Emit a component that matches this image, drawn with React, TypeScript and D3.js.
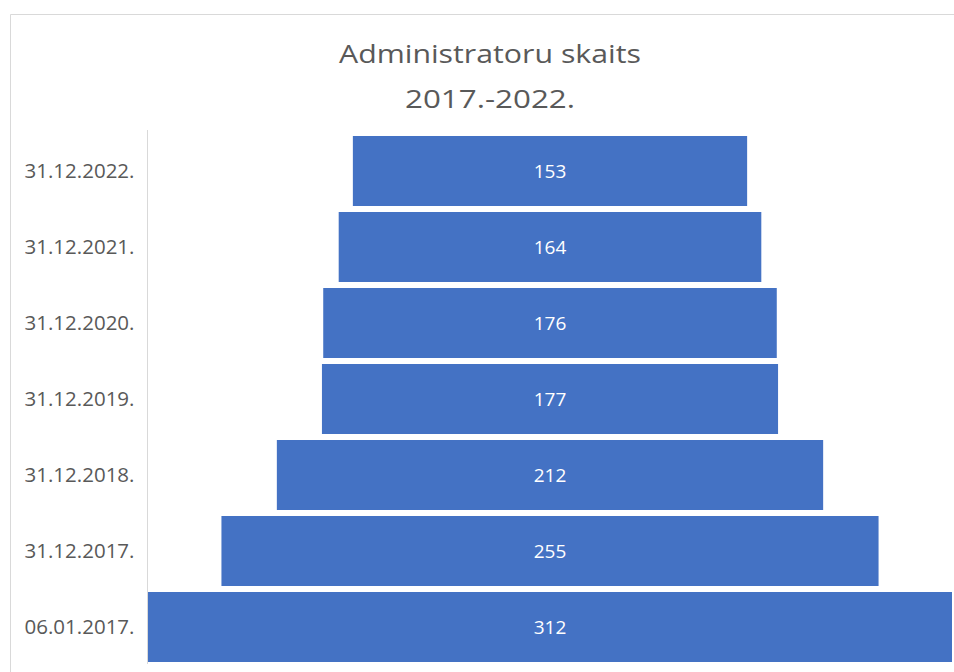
import React from "react";
import * as d3 from "d3";

const categories = ["31.12.2022.", "31.12.2021.", "31.12.2020.", "31.12.2019.", "31.12.2018.", "31.12.2017.", "06.01.2017."];
const values = [153, 164, 176, 177, 212, 255, 312];
const titleLines = ["Administratoru skaits", "2017.-2022."];
const titleWidths = [302, 170];

export default function App() {
  const W = 954, H = 672;
  const y = d3.scaleBand<string>().domain(categories).range([133, 665]).paddingInner(6 / 76).paddingOuter(3 / 76);
  const w = d3.scaleLinear().domain([0, 312]).range([0, 804]);
  const cx = 550;
  const font = "'Open Sans', 'Noto Sans', sans-serif";
  return (
    <svg width={W} height={H} style={{ position: "absolute", left: 0, top: 0 }}>
      <rect x={0} y={0} width={W} height={H} fill="#fff" />
      <line x1={10.5} y1={14.5} x2={W} y2={14.5} stroke="#d9d9d9" />
      <line x1={10.5} y1={14.5} x2={10.5} y2={H} stroke="#d9d9d9" />
      {titleLines.map((t, i) => (
        <text key={t} x={490} y={63 + i * 45} textAnchor="middle" fontSize={26} fill="#595959" fontFamily={font}
          textLength={titleWidths[i]} lengthAdjust="spacingAndGlyphs">{t}</text>
      ))}
      <line x1={147.5} y1={130} x2={147.5} y2={664} stroke="#d9d9d9" />
      {categories.map((c, i) => {
        const bw = w(values[i]);
        const yy = y(c)!;
        return (
          <g key={c}>
            <rect x={cx - bw / 2} y={yy} width={bw} height={y.bandwidth()} fill="#4472c4" />
            <text x={cx} y={yy + y.bandwidth() / 2} dy="0.36em" textAnchor="middle" fill="#fff" fontSize={19} fontFamily={font}>{values[i]}</text>
            <text x={134.5} y={yy + y.bandwidth() / 2} dy="0.36em" textAnchor="end" fill="#595959" fontSize={19.5} fontFamily={font}
              textLength={110} lengthAdjust="spacingAndGlyphs">{c}</text>
          </g>
        );
      })}
    </svg>
  );
}
